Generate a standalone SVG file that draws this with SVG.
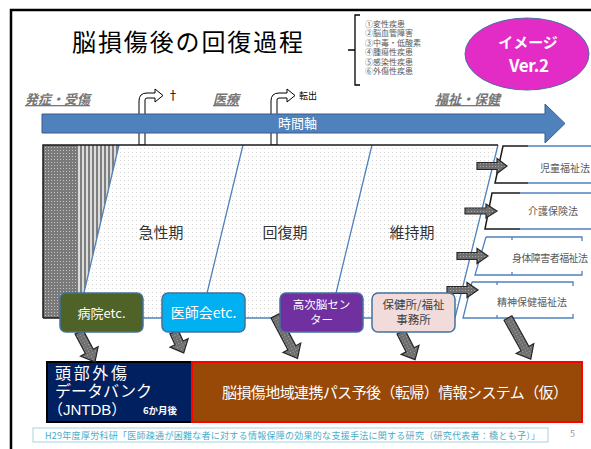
<svg xmlns="http://www.w3.org/2000/svg" width="591" height="449" viewBox="0 0 591 449">
<defs>
<style>
text { font-family: "Noto Sans CJK JP", "Noto Sans", sans-serif; }
.frame { fill:none; stroke:#000; stroke-width:2.5; }
.lbl { font-size:13px; font-weight:bold; font-style:italic; fill:#767676; text-decoration:underline; }
.leg { font-size:8px; fill:#595959; }
.phase { font-size:15px; fill:#333; text-anchor:middle; }
.law { font-size:10px; fill:#595959; }
.bline { stroke:#4F81BD; stroke-width:1.3; fill:none; }
.kline { stroke:#1a1a1a; stroke-width:1.5; fill:none; }
.node rect { stroke:#41719C; stroke-width:1.5; }
.nt { fill:#fff; text-anchor:middle; }
.fat { fill:url(#arrowPat); stroke:#262626; stroke-width:1.2; }
.bent { fill:#fff; stroke:#000; stroke-width:1; }
.wbox { fill:#fff; }
.db { fill:#fff; font-family:"Liberation Sans","Noto Sans CJK JP",sans-serif; }
</style>
<pattern id="grayDots" width="3" height="3" patternUnits="userSpaceOnUse"><rect width="3" height="3" fill="#7a7a7a"/><rect width="1" height="1" fill="#c4c4c4"/></pattern>
<pattern id="stripes" width="4" height="4" patternUnits="userSpaceOnUse"><rect width="4" height="4" fill="#dcdcdc"/><rect width="2" height="4" fill="#7f7f7f"/></pattern>
<pattern id="lightDots" width="4" height="4" patternUnits="userSpaceOnUse"><rect width="4" height="4" fill="#fff"/><rect width="1" height="1" fill="#d6d6d6"/></pattern>
<pattern id="arrowPat" width="3" height="3" patternUnits="userSpaceOnUse"><rect width="3" height="3" fill="#6e6e6e"/><rect width="1" height="1" fill="#a8a8a8"/></pattern>
</defs>

<rect width="591" height="449" fill="#fff"/>
<path class="frame" d="M11,449 V10 H591"/>

<g id="title"><text x="72" y="51" font-size="24" textLength="231" fill="#000">脳損傷後の回復過程</text></g>

<g id="legend">
<path d="M360,15 H355 V85 H360 M355,50 H348" fill="none" stroke="#000" stroke-width="1.3"/>
<text class="leg" x="365" y="26.5">①変性疾患</text>
<text class="leg" x="365" y="36">②脳血管障害</text>
<text class="leg" x="365" y="45.5">③中毒・低酸素</text>
<text class="leg" x="365" y="55">④腫瘍性疾患</text>
<text class="leg" x="365" y="64.5">⑤感染性疾患</text>
<text class="leg" x="365" y="74">⑥外傷性疾患</text>
</g>

<g id="badge">
<ellipse cx="527" cy="54" rx="62" ry="36" fill="#E32BC6" stroke="#4A6FA5" stroke-width="1"/>
<text x="528" y="48" font-size="15" font-weight="bold" fill="#fff" text-anchor="middle">イメージ</text>
<text x="529" y="72" font-size="17" font-weight="bold" fill="#fff" text-anchor="middle" textLength="40" font-family="Liberation Sans, sans-serif">Ver.2</text>
</g>

<g id="stage-labels">
<text class="lbl" x="25" y="104">発症・受傷</text>
<text class="lbl" x="213" y="104">医療</text>
<text class="lbl" x="435" y="104">福祉・保健</text>
</g>

<g id="exits">
<path class="bent" d="M139,145 V101 Q139,93 147,93 H155 V89 L163,95.5 L155,102 V98 H147 Q145,98 145,100 V145 Z"/>
<text x="167" y="100" font-size="12" fill="#000">†</text>
<path class="bent" d="M271,145 V101 Q271,93 279,93 H287 V89 L295,95.5 L287,102 V98 H279 Q277,98 277,100 V145 Z"/>
<text x="299" y="99" font-size="9" fill="#000">転出</text>
</g>

<g id="time-axis">
<path d="M42,114 H545 V104 L565,123.5 L545,143 V133 H42 Z" fill="#4F81BD" stroke="#385D8A" stroke-width="1"/>
<text x="278" y="128" font-size="13" fill="#fff">時間軸</text>
</g>

<g id="phases">
<polygon points="119,145 498,145 455,318 78,318" fill="url(#lightDots)"/>
<rect x="43" y="145" width="34" height="173" fill="url(#grayDots)"/>
<polygon points="77,145 119,145 78,318 77,318" fill="url(#stripes)"/>
<path class="bline" d="M119,145 L78,318 M243,145 L201,318 M372,145 L330,318 M498,145 L455,318 M78,318 H455"/>
<path class="kline" d="M43,318 V145 H498 M43,318 H78"/>
<text class="phase" x="161" y="238">急性期</text>
<text class="phase" x="285" y="238">回復期</text>
<text class="phase" x="412" y="238">維持期</text>
</g>

<g id="law-child">
<polygon class="wbox" points="503,146 591,146 591,183 495,183"/>
<path class="kline" d="M528,146 H503 L495,183 H528"/>
<path class="bline" d="M528,146 H591 M528,183 H591"/>
<text class="law" x="540" y="172">児童福祉法</text>
</g>
<g id="law-care">
<polygon class="wbox" points="492,193 591,193 591,229 485,229"/>
<path class="kline" d="M520,193 H492 L485,229 H520"/>
<path class="bline" d="M520,193 H591 M520,229 H591"/>
<text class="law" x="528" y="215">介護保険法</text>
</g>
<g id="law-physical">
<polygon class="wbox" points="486,237 582,237 582,275 475,275"/>
<path class="bline" d="M486,237 L475,275 H582 V271 M486,237 H582 V241 M512,237 V240 M512,275 V272"/>
<text class="law" x="512" y="262" font-size="9.5" textLength="76">身体障害者福祉法</text>
</g>
<g id="law-mental">
<polygon class="wbox" points="472,282 573,282 573,318 463,318"/>
<path class="bline" d="M472,282 L463,318 H573 V314 M472,282 H573 V286 M497,282 V285 M497,318 V315"/>
<text class="law" x="497" y="306">精神保健福祉法</text>
</g>

<g id="jntdb">
<rect x="47" y="362" width="145" height="60" fill="#002060" stroke="#000" stroke-width="2"/>
<text class="db" x="55" y="378.5" font-size="16" textLength="72">頭部外傷</text>
<text class="db" x="55" y="396.5" font-size="16" textLength="97">データバンク</text>
<text class="db" x="48" y="414.5" font-size="15">（JNTDB）</text>
<text x="143" y="414" font-size="9.5" font-weight="bold" fill="#fff">6か月後</text>
</g>
<g id="path-system">
<rect x="192" y="362" width="390" height="60" fill="#984807" stroke="#FF0000" stroke-width="2"/>
<text x="222" y="398" font-size="15" fill="#fff" textLength="346">脳損傷地域連携パス予後（転帰）情報システム（仮）</text>
</g>

<g id="connectors">
<path class="fat" transform="translate(477,166)" d="M0,-3.5 H20 V-7.5 L30,0 L20,7.5 V3.5 H0 Z"/>
<path class="fat" transform="translate(465,211)" d="M0,-3 H21 V-7 L32,0 L21,7 V3 H0 Z"/>
<path class="fat" transform="translate(457,256)" d="M0,-3.5 H20 V-7.5 L31,0 L20,7.5 V3.5 H0 Z"/>
<path class="fat" transform="translate(447,290)" d="M0,-3.5 H20 V-7.5 L31,0 L20,7.5 V3.5 H0 Z"/>
<path class="fat" transform="translate(79,332) rotate(62)" d="M0,-4.5 H22 V-10 L34,0 L22,10 V4.5 H0 Z"/>
<path class="fat" transform="translate(174,332) rotate(65)" d="M0,-4.5 H12 V-10 L23,0 L12,10 V4.5 H0 Z"/>
<path class="fat" transform="translate(275,316) rotate(62)" d="M0,-4.5 H36 V-10 L48,0 L36,10 V4.5 H0 Z"/>
<path class="fat" transform="translate(401,332) rotate(63)" d="M0,-4.5 H20 V-10 L31,0 L20,10 V4.5 H0 Z"/>
<path class="fat" transform="translate(508,318) rotate(61)" d="M0,-4.5 H35 V-10 L47,0 L35,10 V4.5 H0 Z"/>
</g>

<g id="hospital" class="node">
<rect x="60" y="293" width="83" height="39" rx="6" fill="#4F6228"/>
<text class="nt" x="101.5" y="318" font-size="13">病院etc.</text>
</g>
<g id="medical-assoc" class="node">
<rect x="162" y="293" width="83" height="39" rx="6" fill="#00B0F0"/>
<text class="nt" x="203.5" y="318" font-size="14">医師会etc.</text>
</g>
<g id="brain-center" class="node">
<rect x="280" y="293" width="83" height="39" rx="6" fill="#7030A0"/>
<text class="nt" x="321.5" y="309" font-size="11.5">高次脳セン</text>
<text class="nt" x="321.5" y="324" font-size="11.5">ター</text>
</g>
<g id="health-office" class="node">
<rect x="372" y="293" width="83" height="39" rx="6" fill="#F2DCDB"/>
<text x="413.5" y="309" font-size="11.5" fill="#404040" text-anchor="middle">保健所/福祉</text>
<text x="413.5" y="324" font-size="11.5" fill="#404040" text-anchor="middle">事務所</text>
</g>

<g id="footer">
<rect x="33" y="428" width="515" height="14" fill="#fff" stroke="#A5D3E0" stroke-width="1"/>
<text x="45" y="438.5" font-size="9" fill="#4BACC6" textLength="495">H29年度厚労科研「医師疎通が困難な者に対する情報保障の効果的な支援手法に関する研究（研究代表者：橋とも子）」</text>
<text x="570" y="437" font-size="9" fill="#999">5</text>
</g>
</svg>
